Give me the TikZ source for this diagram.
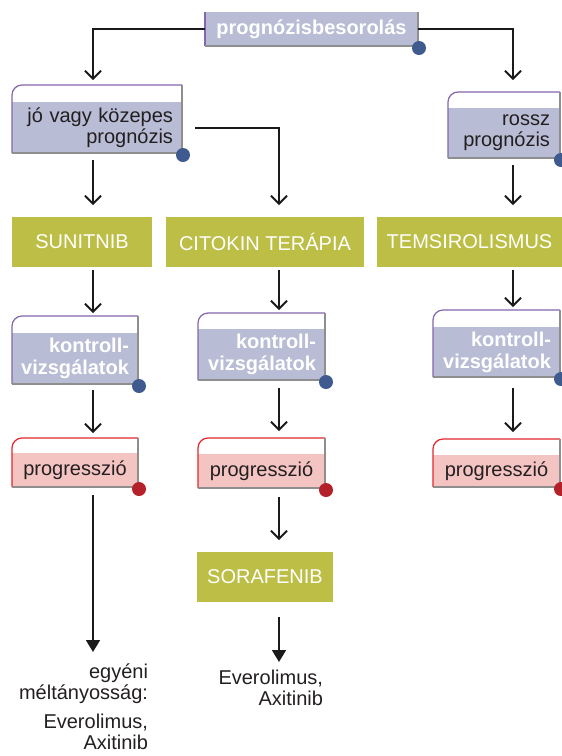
\documentclass[tikz,border=0pt]{standalone}
\usepackage{fontspec}
\setmainfont{Liberation Sans}
\usetikzlibrary{arrows.meta,calc}
\definecolor{lav}{HTML}{B8BCD5}
\definecolor{pinkf}{HTML}{F4C4C3}
\definecolor{grn}{HTML}{BDBE46}
\definecolor{purp}{HTML}{8366AC}
\definecolor{redl}{HTML}{E3262B}
\definecolor{edgegray}{HTML}{8E8E8E}
\definecolor{dotblue}{HTML}{3F5A8E}
\definecolor{dotred}{HTML}{B5212B}
\definecolor{txt}{HTML}{231F20}
\definecolor{arrowc}{HTML}{1A1A1A}
\newcommand\boxdeco[4]{%
  \draw[#3, line width=1.2pt, rounded corners=10pt] (#1.south west) -- ([yshift=#2]#1.north west) -- ([yshift=#2]#1.north east);
  \draw[edgegray, line width=1.6pt] ([yshift=#2]#1.north east) -- (#1.south east) -- (#1.south west);
  \fill[#4] ([xshift=1pt,yshift=-2pt]#1.south east) circle (7pt);
  \coordinate (#1-top) at ([yshift=#2]#1.north);
}
\tikzset{
  base/.style={font=\fontsize{20}{21}\selectfont, outer sep=0pt},
  lavbox/.style={base, fill=lav, inner xsep=10pt, inner ysep=0pt, align=right},
  whitebold/.style={text=white, font=\fontsize{20}{22}\selectfont\bfseries},
  darktext/.style={text=txt},
  pinkbox/.style={base, fill=pinkf, inner xsep=4pt, inner ysep=0pt, align=center, text=txt},
  greenbox/.style={base, fill=grn, inner sep=0pt, text=white, align=center},
  plain/.style={base, inner sep=0pt, text=txt, align=right},
  con/.style={line width=1.8pt, draw=arrowc, -{Straight Barb[length=8pt,width=16pt]}},
  confill/.style={line width=1.8pt, draw=arrowc, -{Triangle[length=12pt,width=14pt]}}
}
\begin{document}
\begin{tikzpicture}[x=1pt,y=-1pt]
\useasboundingbox (0,0) rectangle (562,756);
\coordinate (c1) at (93,0);
\coordinate (c2) at (279,0);
\coordinate (c3) at (513,0);

% top box
\node[lavbox, whitebold, align=center, minimum width=213pt, minimum height=34pt] (top) at (311.5,29) {prognózisbesorolás};
\draw[purp, line width=1.2pt] (top.south west) -- (top.north west);
\draw[edgegray, line width=1.6pt] (top.north east) -- (top.south east) -- (top.south west);
\fill[dotblue] ([xshift=1pt,yshift=-2pt]top.south east) circle (7pt);

% prognosis boxes
\node[lavbox, darktext, text width=152pt, minimum height=51pt, inner xsep=9pt] (jo) at (97,127.5) {jó vagy közepes\\prognózis};
\boxdeco{jo}{17pt}{purp}{dotblue}
\node[lavbox, darktext, text width=92pt, minimum height=50pt] (rossz) at (504,133) {rossz\\prognózis};
\boxdeco{rossz}{16pt}{purp}{dotblue}

% therapy boxes
\node[greenbox, minimum width=140pt, minimum height=50pt] (sun) at (82,242) {SUNITNIB};
\node[greenbox, minimum width=198pt, minimum height=50pt] (cit) at (265,242) {CITOKIN TERÁPIA};
\node[greenbox, minimum width=185pt, minimum height=50pt] (tem) at (469.5,242) {TEMSIROLISMUS};

% kontroll boxes
\node[lavbox, whitebold, inner xsep=9pt, text width=108pt, minimum height=51pt] (k1) at (75,358.5) {kontroll-\\vizsgálatok};
\boxdeco{k1}{17pt}{purp}{dotblue}
\node[lavbox, whitebold, inner xsep=9pt, text width=109pt, minimum height=51pt] (k2) at (261.5,354.5) {kontroll-\\vizsgálatok};
\boxdeco{k2}{16pt}{purp}{dotblue}
\node[lavbox, whitebold, inner xsep=9pt, text width=109pt, minimum height=50pt] (k3) at (496.5,352) {kontroll-\\vizsgálatok};
\boxdeco{k3}{17pt}{purp}{dotblue}

% progression boxes
\node[pinkbox, text width=118pt, minimum height=34pt] (p1) at (75,470) {progresszió};
\boxdeco{p1}{15pt}{redl}{dotred}
\node[pinkbox, text width=119pt, minimum height=34pt] (p2) at (261.5,471) {progresszió};
\boxdeco{p2}{16pt}{redl}{dotred}
\node[pinkbox, text width=119pt, minimum height=32pt] (p3) at (496.5,471) {progresszió};
\boxdeco{p3}{16pt}{redl}{dotred}

% sorafenib
\node[greenbox, minimum width=136pt, minimum height=50pt] (sor) at (265,577) {SORAFENIB};

% end texts
\node[plain, anchor=north east] (egy) at (148,664) {egyéni\\méltányosság:\\[8pt]Everolimus,\\Axitinib};
\node[plain, anchor=north east] (ever) at (323,670) {Everolimus,\\Axitinib};

% connectors
\draw[con, shorten >=5pt] (top.west) -| (jo-top -| c1);
\draw[con, shorten >=12pt] (top.east) -| (rossz-top -| c3);
\draw[con, shorten <=7pt, shorten >=12pt] (jo.south -| c1) -- (sun.north -| c1);
\draw[con, shorten >=12pt] ($(jo.east)+(13,0.5)$) -| (cit.north -| c2);
\draw[con, shorten <=7pt, shorten >=12pt] (rossz.south -| c3) -- (tem.north -| c3);
\draw[con, shorten <=3pt, shorten >=3pt] (sun.south -| c1) -- (k1-top -| c1);
\draw[con, shorten <=3pt, shorten >=3pt] (cit.south -| c2) -- (k2-top -| c2);
\draw[con, shorten <=3pt, shorten >=3pt] (tem.south -| c3) -- (k3-top -| c3);
\draw[con, shorten <=6pt, shorten >=5pt] (k1.south -| c1) -- (p1-top -| c1);
\draw[con, shorten <=8pt, shorten >=7pt] (k2.south -| c2) -- (p2-top -| c2);
\draw[con, shorten <=11pt, shorten >=7pt] (k3.south -| c3) -- (p3-top -| c3);
\draw[confill, shorten <=8pt, shorten >=12pt] (p1.south -| c1) -- (egy.north -| c1);
\draw[con, shorten <=9pt, shorten >=12pt] (p2.south -| c2) -- (sor.north -| c2);
\draw[confill, shorten <=15pt, shorten >=8pt] (sor.south -| c2) -- (ever.north -| c2);
\end{tikzpicture}
\end{document}
